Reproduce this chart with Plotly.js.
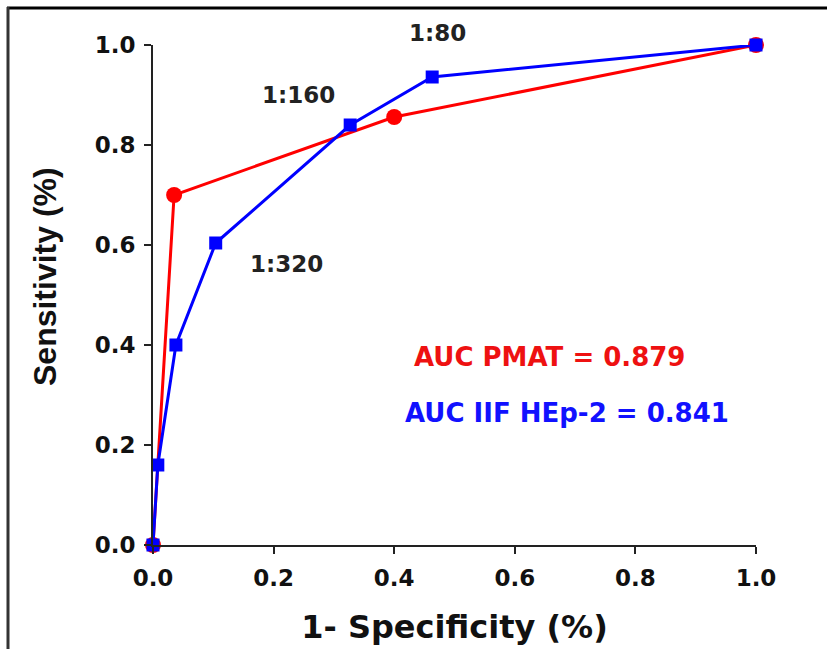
<!DOCTYPE html>
<html>
<head>
<meta charset="utf-8">
<script src="https://cdn.plot.ly/plotly-3.0.1.min.js"></script>
<style>
html,body{margin:0;padding:0;background:#fff;}
#chart{width:827px;height:649px;}
</style>
</head>
<body>
<div id="chart"></div>
<script>
// PMAT ROC curve
const pmatX = [0, 0.035, 0.40, 1.0];
const pmatY = [0, 0.70, 0.856, 1.0];
// IIF HEp-2 ROC curve
const iifX = [0, 0.008, 0.038, 0.104, 0.327, 0.463, 1.0];
const iifY = [0, 0.16, 0.40, 0.604, 0.84, 0.936, 1.0];
// Dilution labels
const dilLabels = ["1:80", "1:160", "1:320"];
const dilX = [0.471, 0.242, 0.222];
const dilY = [1.024, 0.90, 0.562];
// AUC labels
const aucLabels = ["AUC PMAT = 0.879", "AUC IIF HEp-2 = 0.841"];
const aucX = [0.658, 0.687];
const aucY = [0.376, 0.264];
const aucColors = ["#ee1111", "#1111ff"];
const tickVals = [0, 0.2, 0.4, 0.6, 0.8, 1.0];
const tickText = ["0.0", "0.2", "0.4", "0.6", "0.8", "1.0"];
const xTitle = "1- Specificity (%)";
const yTitle = "Sensitivity (%)";

const WIDE = "DejaVu Sans, Verdana, sans-serif";
const ARIAL = "Liberation Sans, Arial, sans-serif";

const traces = [
  {x: pmatX, y: pmatY, mode: "lines+markers", type: "scatter", cliponaxis: false,
   line: {color: "#ff0000", width: 3},
   marker: {symbol: "circle", size: 16, color: "#ff0000"}},
  {x: iifX, y: iifY, mode: "lines+markers", type: "scatter", cliponaxis: false,
   line: {color: "#0000ff", width: 3},
   marker: {symbol: "square", size: 13, color: "#0000ff"}}
];

const W = 827, H = 649, L = 153, R = 71, T = 45, B = 104;
const pw = W - L - R, ph = H - T - B;
function px(xp){ return (xp - L) / pw; }
function py(yp){ return (H - B - yp) / ph; }

const annotations = [];
dilLabels.forEach((t, i) => annotations.push({
  x: dilX[i], y: dilY[i], xref: "x", yref: "paper", xanchor: "center", yanchor: "middle",
  text: "<b>" + t + "</b>", showarrow: false,
  font: {family: WIDE, size: 23, color: "#222"}
}));
aucLabels.forEach((t, i) => annotations.push({
  x: aucX[i], y: aucY[i], xref: "x", yref: "paper", xanchor: "center", yanchor: "middle",
  text: "<b>" + t + "</b>", showarrow: false,
  font: {family: WIDE, size: 26, color: aucColors[i]}
}));
annotations.push({
  x: px(45), y: py(277), xref: "paper", yref: "paper", xanchor: "center", yanchor: "middle",
  textangle: -90, text: "<b>" + yTitle + "</b>", showarrow: false,
  font: {family: ARIAL, size: 32, color: "#111"}
});

const layout = {
  width: W, height: H,
  margin: {l: L, r: R, t: T, b: B},
  paper_bgcolor: "#fff", plot_bgcolor: "#fff",
  showlegend: false,
  xaxis: {
    range: [0, 1], tickvals: tickVals, ticktext: tickText,
    showgrid: false, zeroline: false, showline: true, linecolor: "#222", linewidth: 2,
    ticks: "outside", ticklen: 7, tickwidth: 2, tickcolor: "#222",
    ticklabelstandoff: 4,
    tickfont: {family: WIDE, size: 23, color: "#111", weight: "bold"},
    title: {text: "<b>" + xTitle + "</b>", font: {family: WIDE, size: 32, color: "#111"}, standoff: 26}
  },
  yaxis: {
    range: [0, 1], tickvals: tickVals, ticktext: tickText,
    showgrid: false, zeroline: false, showline: true, linecolor: "#222", linewidth: 2,
    ticks: "outside", ticklen: 7, tickwidth: 2, tickcolor: "#222",
    ticklabelstandoff: 4,
    tickfont: {family: WIDE, size: 23, color: "#111", weight: "bold"}
  },
  annotations: annotations,
  shapes: [
    {type: "line", xref: "paper", yref: "paper", x0: px(7), x1: px(827), y0: py(8), y1: py(8),
     line: {color: "#000", width: 3}},
    {type: "line", xref: "paper", yref: "paper", x0: px(8), x1: px(8), y0: py(7), y1: py(649),
     line: {color: "#333", width: 3}}
  ]
};

Plotly.newPlot("chart", traces, layout, {displayModeBar: false, staticPlot: true});
</script>
</body>
</html>
